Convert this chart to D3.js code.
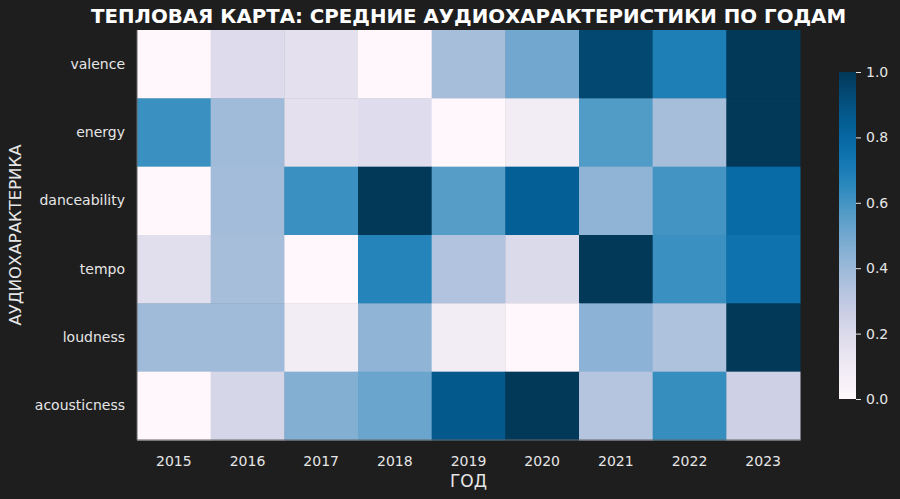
<!DOCTYPE html>
<html>
<head>
<meta charset="utf-8">
<script src="https://cdn.jsdelivr.net/npm/d3@7"></script>
<style>
  body { margin: 0; background: #1e1e1e; }
  svg { display: block; font-family: "DejaVu Sans", sans-serif; }
</style>
</head>
<body>
<div id="chart"></div>
<script>
const years = ["2015", "2016", "2017", "2018", "2019", "2020", "2021", "2022", "2023"];
const features = ["valence", "energy", "danceability", "tempo", "loudness", "acousticness"];

// normalized means per feature (rows), one value per year
const valence      = [0.00, 0.19, 0.16, 0.00, 0.37, 0.50, 0.94, 0.69, 1.00];
const energy       = [0.62, 0.39, 0.16, 0.18, 0.00, 0.08, 0.57, 0.37, 1.00];
const danceability = [0.00, 0.38, 0.62, 1.00, 0.56, 0.84, 0.43, 0.60, 0.78];
const tempo        = [0.17, 0.37, 0.00, 0.67, 0.34, 0.20, 1.00, 0.62, 0.75];
const loudness     = [0.39, 0.39, 0.08, 0.43, 0.08, 0.00, 0.44, 0.35, 1.00];
const acousticness = [0.00, 0.22, 0.46, 0.52, 0.87, 1.00, 0.33, 0.63, 0.25];

const rows = [valence, energy, danceability, tempo, loudness, acousticness];
const cells = [];
rows.forEach((r, i) => r.forEach((v, j) => cells.push({ feature: features[i], year: years[j], value: v })));

const W = 900, H = 499;
const margin = { top: 30, right: 100, bottom: 59, left: 137 };
const width = W - margin.left - margin.right,
  height = H - margin.top - margin.bottom;
const textColor = "#e6e6e6";
const font = "DejaVu Sans, sans-serif";

const svg = d3.select("#chart").append("svg")
  .attr("width", W).attr("height", H)
  .style("background", "#1e1e1e");

const g = svg.append("g").attr("transform", `translate(${margin.left},${margin.top})`);

const x = d3.scaleBand().domain(years).range([0, width]);
const y = d3.scaleBand().domain(features).range([0, height]);
const color = d3.scaleSequential(d3.interpolatePuBu).domain([0, 1]);

g.selectAll("rect.cell")
  .data(cells)
  .join("rect")
  .attr("class", "cell")
  .attr("x", d => x(d.year))
  .attr("y", d => y(d.feature))
  .attr("width", x.bandwidth() + 0.5)
  .attr("height", y.bandwidth() + 0.5)
  .attr("fill", d => color(d.value));

// spines
g.append("line").attr("x1", 0).attr("x2", 0).attr("y1", 0).attr("y2", height)
  .attr("stroke", "#666").attr("stroke-width", 1);
g.append("line").attr("x1", 0).attr("x2", width).attr("y1", height).attr("y2", height)
  .attr("stroke", "#666").attr("stroke-width", 1);

// axes
const xAxis = g.append("g")
  .attr("transform", `translate(0,${height})`)
  .call(d3.axisBottom(x).tickSize(0).tickPadding(16));
const yAxis = g.append("g")
  .call(d3.axisLeft(y).tickSize(0).tickPadding(12));
[xAxis, yAxis].forEach(a => {
  a.attr("font-family", font);
  a.select(".domain").remove();
  a.selectAll("text").attr("fill", textColor).style("font-size", "14px");
});

// axis titles
svg.append("text")
  .attr("x", margin.left + width / 2).attr("y", 487)
  .attr("text-anchor", "middle").attr("fill", textColor)
  .style("font-size", "17px").text("ГОД");
svg.append("text")
  .attr("transform", `translate(21,${margin.top + height / 2}) rotate(-90)`)
  .attr("text-anchor", "middle").attr("fill", textColor)
  .style("font-size", "16.5px").text("АУДИОХАРАКТЕРИКА");

// title
svg.append("text")
  .attr("x", margin.left + width / 2).attr("y", 23)
  .attr("text-anchor", "middle").attr("fill", "#ffffff")
  .style("font-size", "19.8px").style("font-weight", "bold")
  .text("ТЕПЛОВАЯ КАРТА: СРЕДНИЕ АУДИОХАРАКТЕРИСТИКИ ПО ГОДАМ");

// colorbar
const cbX = 839, cbW = 17, cbTop = 72, cbBottom = 399;
const defs = svg.append("defs");
const grad = defs.append("linearGradient").attr("id", "cbgrad")
  .attr("x1", "0").attr("y1", "1").attr("x2", "0").attr("y2", "0");
d3.range(0, 1.0001, 0.05).forEach(t => {
  grad.append("stop").attr("offset", t).attr("stop-color", color(t));
});
svg.append("rect")
  .attr("x", cbX).attr("y", cbTop).attr("width", cbW).attr("height", cbBottom - cbTop)
  .attr("fill", "url(#cbgrad)");
const cbScale = d3.scaleLinear().domain([0, 1]).range([cbBottom, cbTop]);
const cbAxis = svg.append("g")
  .attr("transform", `translate(${cbX + cbW},0)`)
  .attr("font-family", font)
  .call(d3.axisRight(cbScale).tickValues([0, 0.2, 0.4, 0.6, 0.8, 1.0]).tickFormat(d3.format(".1f")).tickSize(5).tickPadding(5));
cbAxis.attr("font-family", font);
cbAxis.select(".domain").remove();
cbAxis.selectAll("line").attr("stroke", textColor);
cbAxis.selectAll("text").attr("fill", textColor).style("font-size", "14px");
</script>
</body>
</html>
